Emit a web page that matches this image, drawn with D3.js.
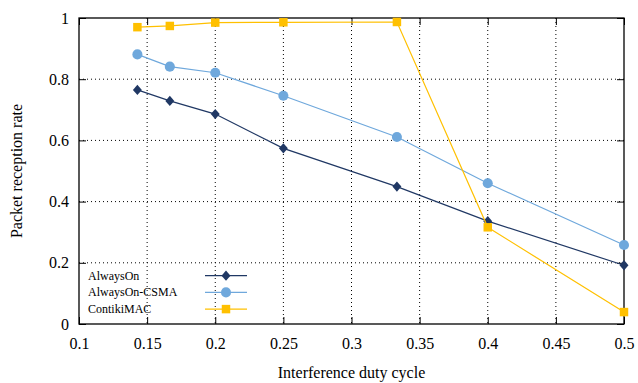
<!DOCTYPE html>
<html>
<head>
<meta charset="utf-8">
<script src="https://cdn.jsdelivr.net/npm/d3@7"></script>
<style>
  body { margin: 0; background: #fff; }
</style>
</head>
<body>
<svg id="chart" width="638" height="383"></svg>
<script>
// data
var dutyCycle = [1 / 7, 1 / 6, 0.2, 0.25, 1 / 3, 0.4, 0.5];
var alwaysOn = [0.765, 0.729, 0.686, 0.574, 0.449, 0.336, 0.192];
var alwaysOnCsma = [0.881, 0.841, 0.821, 0.746, 0.611, 0.460, 0.258];
var contikiMac = [0.970, 0.974, 0.985, 0.986, 0.987, 0.316, 0.039];
var seriesNames = ["AlwaysOn", "AlwaysOn-CSMA", "ContikiMAC"];
var xTicks = [0.1, 0.15, 0.2, 0.25, 0.3, 0.35, 0.4, 0.45, 0.5];
var yTicks = [0, 0.2, 0.4, 0.6, 0.8, 1];

var serif = "'Liberation Serif'";

var svg = d3.select("#chart"),
    margin = {left: 79, top: 18, right: 14, bottom: 59},
    width = 638 - margin.left - margin.right,
    height = 383 - margin.top - margin.bottom;

var x = d3.scaleLinear().domain([0.1, 0.5]).range([0, width]);
var y = d3.scaleLinear().domain([0, 1]).range([height, 0]);

var g = svg.append("g").attr("transform", "translate(" + margin.left + "," + margin.top + ")");

// grid
g.append("g").selectAll("line").data(xTicks.slice(1, -1)).enter().append("line")
    .attr("x1", d => x(d)).attr("x2", d => x(d))
    .attr("y1", 0).attr("y2", height)
    .attr("stroke", "#000").attr("stroke-width", 1)
    .attr("stroke-dasharray", "1,3");
g.append("g").selectAll("line").data(yTicks.slice(1, -1)).enter().append("line")
    .attr("y1", d => y(d)).attr("y2", d => y(d))
    .attr("x1", 0).attr("x2", width)
    .attr("stroke", "#000").attr("stroke-width", 1)
    .attr("stroke-dasharray", "1,3");

// axes, ticks pointing inward
var fmt = d3.format("");
function styleAxis(sel) {
    sel.select(".domain").remove();
    sel.selectAll("line").attr("stroke", "#000");
    sel.selectAll("text").attr("fill", "#000")
        .style("font-family", serif).style("font-size", "16px");
}
g.append("g").attr("transform", "translate(0," + height + ")")
    .call(d3.axisBottom(x).tickValues(xTicks).tickFormat(fmt).tickSizeInner(-7).tickPadding(14))
    .call(styleAxis);
g.append("g")
    .call(d3.axisTop(x).tickValues(xTicks).tickFormat("").tickSizeInner(-7))
    .call(styleAxis);
g.append("g")
    .call(d3.axisLeft(y).tickValues(yTicks).tickFormat(fmt).tickSizeInner(-7).tickPadding(10))
    .call(styleAxis);
g.append("g").attr("transform", "translate(" + width + ",0)")
    .call(d3.axisRight(y).tickValues(yTicks).tickFormat("").tickSizeInner(-7))
    .call(styleAxis);

// border
g.append("rect").attr("width", width).attr("height", height)
    .attr("fill", "none").attr("stroke", "#000").attr("stroke-width", 1.3);

var colors = ["#203864", "#6fa8dc", "#ffc000"];
var shapes = [d3.symbolSquare, d3.symbolCircle, d3.symbolSquare];
var sizes = [40, 80, 72];
var allSeries = [alwaysOn, alwaysOnCsma, contikiMac];

function markerTransform(i, px, py) {
    var t = "translate(" + px + "," + py + ")";
    return i === 0 ? t + " scale(1,1.15) rotate(45)" : t;
}

var line = d3.line().x(d => x(d[0])).y(d => y(d[1]));

allSeries.forEach(function (vals, i) {
    var pts = dutyCycle.map((d, j) => [d, vals[j]]);
    g.append("path").datum(pts)
        .attr("d", line).attr("fill", "none")
        .attr("stroke", colors[i]).attr("stroke-width", 1.2);
    g.append("g").selectAll("path").data(pts).enter().append("path")
        .attr("d", d3.symbol().type(shapes[i]).size(sizes[i]))
        .attr("transform", d => markerTransform(i, x(d[0]), y(d[1])))
        .attr("fill", colors[i]);
});

// legend
var legend = g.append("g");
seriesNames.forEach(function (name, i) {
    var ly = 257.7 + i * 16.7;
    legend.append("text").attr("x", 9).attr("y", ly + 4)
        .style("font-family", serif)
        .style("font-size", "12px").attr("fill", "#000").text(name);
    legend.append("line").attr("x1", 126).attr("x2", 168)
        .attr("y1", ly).attr("y2", ly)
        .attr("stroke", colors[i]).attr("stroke-width", 1.2);
    legend.append("path")
        .attr("d", d3.symbol().type(shapes[i]).size(sizes[i]))
        .attr("transform", markerTransform(i, 147, ly))
        .attr("fill", colors[i]);
});

// axis titles
svg.append("text").attr("x", margin.left + width / 2).attr("y", 378)
    .style("font-family", serif)
    .attr("text-anchor", "middle").style("font-size", "16px").text("Interference duty cycle");
svg.append("text")
    .attr("transform", "translate(22," + (margin.top + height / 2) + ") rotate(-90)")
    .style("font-family", serif)
    .attr("text-anchor", "middle").style("font-size", "16px").text("Packet reception rate");
</script>
</body>
</html>
